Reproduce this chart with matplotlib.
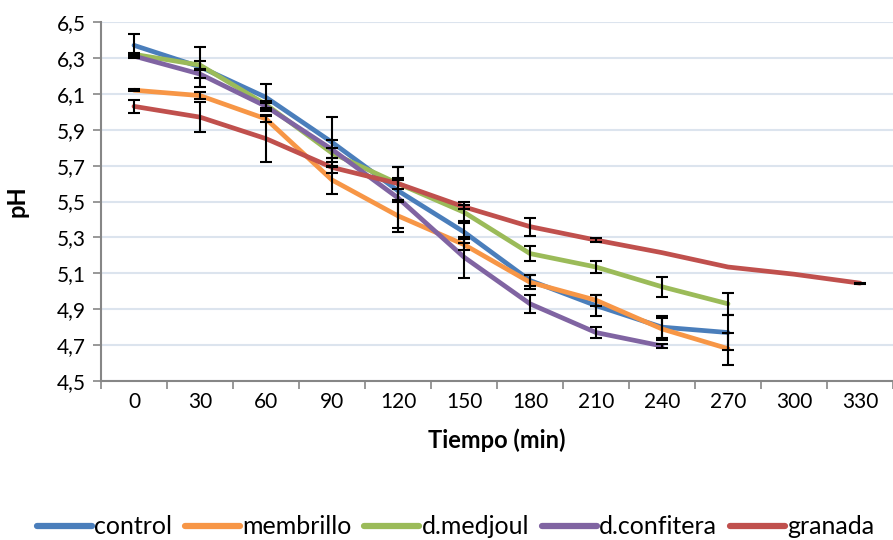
import numpy as np
import matplotlib
matplotlib.use("Agg")
import matplotlib.pyplot as plt

plt.rcParams['font.family'] = ['Lato', 'DejaVu Sans']

tiempo = ['0', '30', '60', '90', '120', '150', '180', '210', '240', '270', '300', '330']

control = [6.37, 6.25, 6.08, 5.83, 5.56, 5.33, 5.06, 4.92, 4.80, 4.77]
control_err = [0.065, 0.11, 0.075, 0.14, 0.06, 0.06, 0.03, 0.06, 0.06, 0.10]

membrillo = [6.12, 6.09, 5.96, 5.62, 5.42, 5.26, 5.05, 4.95, 4.79, 4.68]
membrillo_err = [0.005, 0.02, 0.015, 0.08, 0.09, 0.03, 0.04, 0.03, 0.06, 0.09]

medjoul = [6.32, 6.26, 6.04, 5.77, 5.60, 5.44, 5.21, 5.135, 5.025, 4.93]
medjoul_err = [0.01, 0.02, 0.02, 0.03, 0.09, 0.06, 0.04, 0.035, 0.055, 0.06]

confitera = [6.31, 6.21, 6.03, 5.79, 5.52, 5.19, 4.93, 4.77, 4.695]
confitera_err = [0.01, 0.02, 0.02, 0.05, 0.17, 0.115, 0.05, 0.03, 0.01]

granada = [6.03, 5.97, 5.85, 5.69, 5.60, 5.47, 5.36, 5.285, 5.215, 5.135, 5.095, 5.045]
granada_err = [0.037, 0.085, 0.13, 0.03, 0.03, 0.01, 0.05, 0.01, 0.0, 0.0, 0.0, 0.003]

series = [
    ('control', control, control_err, '#4a7ebb'),
    ('membrillo', membrillo, membrillo_err, '#f79646'),
    ('d.medjoul', medjoul, medjoul_err, '#9bbb59'),
    ('d.confitera', confitera, confitera_err, '#8064a2'),
    ('granada', granada, granada_err, '#c0504d'),
]

fig = plt.figure(figsize=(8.93, 5.4), dpi=100)
ax = fig.add_axes([101 / 893, 1 - 381 / 540, 792 / 893, 359 / 540])

for name, vals, err, color in series:
    x = np.arange(len(vals))
    ax.plot(x, vals, color=color, lw=3.4, label=name, solid_capstyle='round',
            solid_joinstyle='round', zorder=3)
for name, vals, err, color in series:
    x = np.arange(len(vals))
    keep = np.array(err) > 0
    ax.errorbar(x[keep], np.array(vals)[keep], yerr=np.array(err)[keep], fmt='none',
                ecolor='black', elinewidth=1.5, capsize=4, capthick=1.5, zorder=4)

ax.set_xlim(-0.5, len(tiempo) - 0.5)
ax.set_ylim(4.5, 6.5)
yt = np.round(np.arange(4.5, 6.51, 0.2), 1)
ax.set_yticks(yt)
ax.set_yticklabels([f"{v:.1f}".replace('.', ',') for v in yt], fontsize=15)
ax.set_xticks(range(len(tiempo)))
ax.set_xticklabels(tiempo, fontsize=15)
ax.set_xticks(np.arange(-0.5, len(tiempo), 1), minor=True)
ax.tick_params(axis='x', which='major', length=0, pad=8)
ax.tick_params(axis='x', which='minor', length=6, color='#868686', width=1.2)
ax.tick_params(axis='y', length=6, color='#868686', width=1.2, pad=5)

ax.yaxis.grid(True, color='#dce4ee', lw=1.5)
ax.set_axisbelow(True)
for s in ['top', 'right']:
    ax.spines[s].set_visible(False)
for s in ['left', 'bottom']:
    ax.spines[s].set_color('#868686')
    ax.spines[s].set_linewidth(1.5)

ax.set_xlabel('Tiempo (min)', fontsize=17, fontweight='bold', labelpad=12)
ax.set_ylabel('pH', fontsize=17, fontweight='bold', labelpad=20)

fig.legend(loc='center', bbox_to_anchor=(0.51, 13 / 540), ncol=5,
           frameon=False, fontsize=18, handlelength=2.2, handletextpad=0.1,
           columnspacing=0.5, borderaxespad=0)
for line in fig.legends[0].get_lines():
    line.set_linewidth(4.5)

fig.savefig('out.png', dpi=100)
